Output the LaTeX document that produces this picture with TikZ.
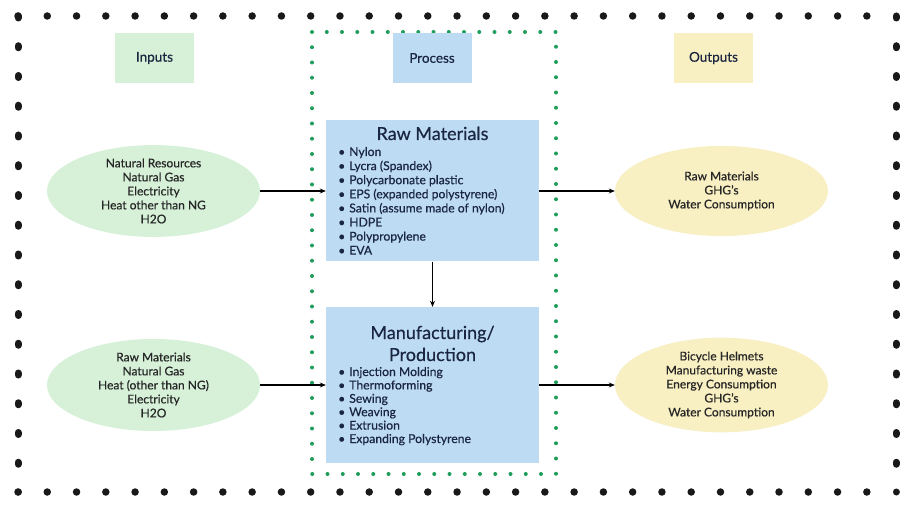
\documentclass[tikz,border=0pt]{standalone}
\usepackage{fontspec}
\setmainfont{Lato}[FakeBold=0.5]
\usetikzlibrary{arrows.meta,shapes.geometric}
\definecolor{inpgreen}{HTML}{D6F1D8}
\definecolor{procblue}{HTML}{BDDCF4}
\definecolor{outyellow}{HTML}{F8EFC2}
\definecolor{dotgreen}{HTML}{1E9E5A}
\definecolor{navy}{HTML}{1B2640}
\begin{document}
\begin{tikzpicture}[x=1pt,y=-1pt,
  hdr/.style={minimum width=79pt,minimum height=50pt,inner sep=0pt,font=\fontsize{13.5}{16}\selectfont,text=navy},
  ell/.style={ellipse,minimum width=213pt,inner sep=0pt,align=center,font=\fontsize{12}{14}\selectfont,text=black!85},
  procbox/.style={fill=procblue,minimum width=213pt,inner sep=0pt},
  title/.style={anchor=base,font=\fontsize{18}{22}\selectfont,text=navy},
  item/.style={anchor=base west,inner sep=0pt,font=\fontsize{12.2}{14}\selectfont,text=navy},
  arr/.style={-{Stealth[length=6pt,width=5pt]},line width=1.3pt,black}]
\useasboundingbox (0,0) rectangle (915,510);
\fill[white] (0,0) rectangle (915,510);
% outer dotted frame
\draw[black!90,line width=7.5pt,line cap=round,dash pattern=on 0pt off 29.27pt] (18,16) -- (896,16);
\draw[black!90,line width=7.5pt,line cap=round,dash pattern=on 0pt off 29.27pt] (18,492) -- (896,492);
\draw[black!90,line width=7pt,line cap=round,dash pattern=on 2pt off 27.75pt] (18,16) -- (18,492);
\draw[black!90,line width=7pt,line cap=round,dash pattern=on 2pt off 27.75pt] (896,16) -- (896,492);
% green dotted process frame
\draw[dotgreen,line width=4pt,line cap=round,dash pattern=on 0pt off 15.25pt] (312,32) rectangle (556,474);
% headers
\node[hdr,fill=inpgreen] (inputs) at (154.5,58) {Inputs};
\node[hdr,fill=procblue] (process) at (432,58) {Process};
\node[hdr,fill=outyellow] (outputs) at (713.5,58) {Outputs};
% process boxes
\node[procbox,minimum height=141pt] (raw) at (432.5,191) {};
\node[title] (rawtitle) at (432.5,140) {Raw Materials};
\foreach \t [count=\i] in {Nylon,Lycra (Spandex),Polycarbonate plastic,EPS (expanded polystyrene),Satin (assume made of nylon),HDPE,Polypropylene,EVA}
  \node[item] (rawitem\i) at (338,{156+14.1*(\i-1)}) {•\hspace{4pt}\t};
\node[procbox,minimum height=156pt] (mfg) at (432.5,385) {};
\node[title] (mfgtitle1) at (432.5,339) {Manufacturing/};
\node[title] (mfgtitle2) at (432.5,361) {Production};
\foreach \t [count=\i] in {Injection Molding,Thermoforming,Sewing,Weaving,Extrusion,Expanding Polystyrene}
  \node[item] (mfgitem\i) at (338,{376+13.4*(\i-1)}) {•\hspace{4pt}\t};
% ellipses
\node[ell,fill=inpgreen,minimum height=88pt] (in1) at (153.5,191) {Natural Resources\\Natural Gas\\Electricity\\Heat other than NG\\H2O};
\node[ell,fill=inpgreen,minimum height=92pt] (in2) at (153.5,385) {Raw Materials\\Natural Gas\\Heat (other than NG)\\Electricity\\H2O};
\node[ell,fill=outyellow,minimum height=90pt] (out1) at (721.5,191) {Raw Materials\\GHG's\\Water Consumption};
\node[ell,fill=outyellow,minimum height=90pt] (out2) at (721.5,385) {Bicycle Helmets\\Manufacturing waste\\Energy Consumption\\GHG's\\Water Consumption};
% arrows
\draw[arr] (in1) -- (raw);
\draw[arr] (raw) -- (out1);
\draw[arr] (raw) -- (mfg);
\draw[arr] (in2) -- (mfg);
\draw[arr] (mfg) -- (out2);
\end{tikzpicture}
\end{document}
